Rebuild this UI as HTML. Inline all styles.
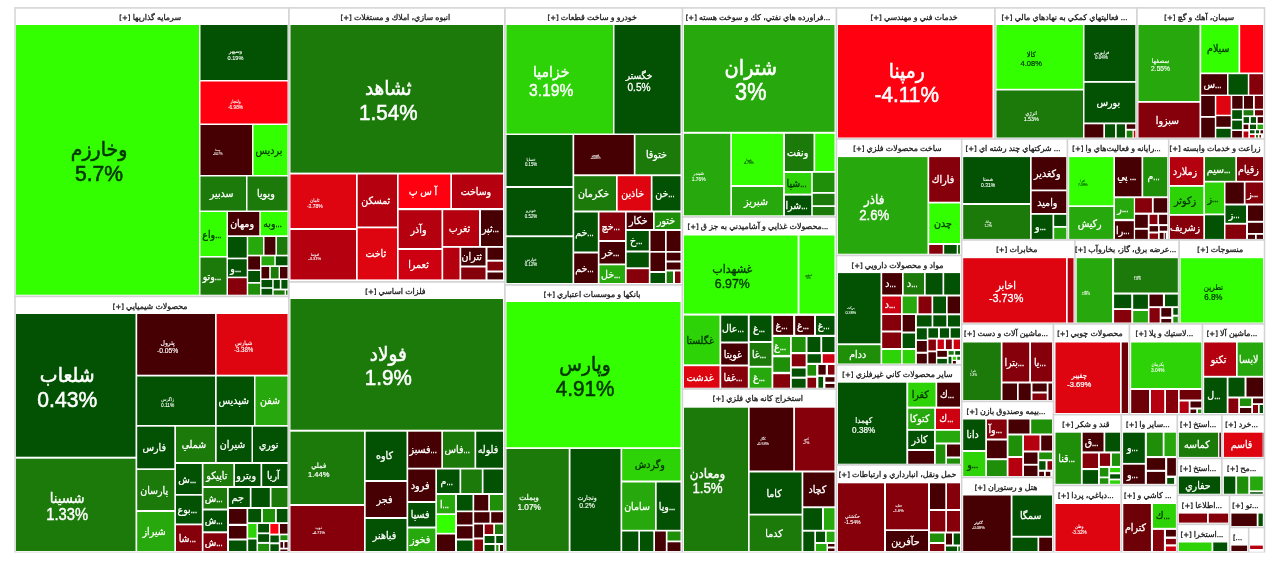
<!DOCTYPE html>
<html lang="fa"><head><meta charset="utf-8"><title>نقشه بازار</title>
<style>
html,body{margin:0;padding:0;background:#fff;}
body{width:1280px;height:564px;overflow:hidden;}
svg{display:block;font-family:"Liberation Sans","DejaVu Sans",sans-serif;}
.b{fill:#fff;stroke:#d3d3d3;stroke-width:1.5}
.t{fill:#1a1a1a;stroke:#1a1a1a;stroke-width:.3px;font-size:7.9px;text-anchor:middle;direction:rtl}
.t tspan{font-size:6.9px;font-family:"DejaVu Sans","Liberation Sans",sans-serif}
.w{fill:#fff;stroke:#fff;text-anchor:middle}
.d{fill:#003400;stroke:#003400;text-anchor:middle}
.G6{fill:#33ff00}
.G5{fill:#2dd207}
.G45{fill:#2dd207}
.G4{fill:#27a80c}
.G3{fill:#1f8f0a}
.G2{fill:#1b7a0a}
.G1{fill:#035203}
.M{fill:#460003}
.R1{fill:#6e0008}
.R2{fill:#86000c}
.R3{fill:#b4000f}
.R4{fill:#cd0012}
.R5{fill:#de0410}
.R6{fill:#ff0010}
</style></head><body>
<svg width="1280" height="564" viewBox="0 0 1280 564">
<rect x="0" y="0" width="1280" height="564" fill="#fff"/>
<g>
<rect class="b" x="15" y="7.9" width="274" height="288.6"/>
<rect class="b" x="15" y="296.5" width="274" height="256"/>
<rect class="b" x="289" y="7.9" width="216" height="274.1"/>
<rect class="b" x="289" y="282" width="216" height="270.5"/>
<rect class="b" x="505" y="7.9" width="177.5" height="277.1"/>
<rect class="b" x="505" y="285" width="177.5" height="267.5"/>
<rect class="b" x="682.5" y="7.9" width="154" height="209.1"/>
<rect class="b" x="682.5" y="217" width="154" height="172"/>
<rect class="b" x="682.5" y="389" width="154" height="163.5"/>
<rect class="b" x="836.5" y="7.9" width="158.5" height="131.1"/>
<rect class="b" x="836.5" y="139" width="125.2" height="116.5"/>
<rect class="b" x="836.5" y="255.5" width="125.2" height="109.5"/>
<rect class="b" x="836.5" y="365" width="125.2" height="100"/>
<rect class="b" x="836.5" y="465" width="125.2" height="87.5"/>
<rect class="b" x="995" y="7.9" width="142" height="131.1"/>
<rect class="b" x="1137" y="7.9" width="127.5" height="131.1"/>
<rect class="b" x="961.7" y="139" width="105.8" height="101"/>
<rect class="b" x="1067.5" y="139" width="101.2" height="101"/>
<rect class="b" x="1168.7" y="139" width="95.8" height="101"/>
<rect class="b" x="961.7" y="240" width="113.3" height="84"/>
<rect class="b" x="1075" y="240" width="104.2" height="84"/>
<rect class="b" x="1179.2" y="240" width="85.3" height="84"/>
<rect class="b" x="961.7" y="324" width="91.8" height="77.5"/>
<rect class="b" x="1053.5" y="324" width="76" height="90.7"/>
<rect class="b" x="1129.5" y="324" width="73" height="90.7"/>
<rect class="b" x="1202.5" y="324" width="62" height="90.7"/>
<rect class="b" x="961.7" y="401.5" width="91.8" height="76"/>
<rect class="b" x="961.7" y="477.5" width="91.8" height="75"/>
<rect class="b" x="1053.5" y="414.7" width="67.9" height="70.8"/>
<rect class="b" x="1121.4" y="414.7" width="56" height="70.8"/>
<rect class="b" x="1177.4" y="414.7" width="44.6" height="43.8"/>
<rect class="b" x="1222" y="414.7" width="42.5" height="43.8"/>
<rect class="b" x="1177.4" y="458.5" width="44.6" height="36.9"/>
<rect class="b" x="1222" y="458.5" width="42.5" height="36.9"/>
<rect class="b" x="1053.5" y="485.5" width="67.9" height="67"/>
<rect class="b" x="1121.4" y="485.5" width="56" height="67"/>
<rect class="b" x="1177.4" y="495.4" width="52.2" height="29"/>
<rect class="b" x="1229.6" y="495.4" width="34.9" height="32.1"/>
<rect class="b" x="1177.4" y="524.4" width="52.2" height="28.1"/>
<rect class="b" x="1229.6" y="527.5" width="19.1" height="25"/>
<rect class="b" x="1248.7" y="527.5" width="15.8" height="25"/>
<rect x="0" y="552.5" width="1280" height="12" fill="#fff"/>
</g>
<g>
<text class="t" x="150.15" y="20.3">سرمايه گذاريها <tspan>[+]</tspan></text>
<rect class="G6" x="16" y="25" width="183" height="269.7"/>
<text class="d" transform="translate(99 156.18) scale(0.93 1)" font-size="20.37" stroke-width="0.55" direction="rtl">وخارزم</text>
<text class="d" transform="translate(99 181.17) scale(0.94 1)" font-size="22.47" stroke-width="0.55">5.7%</text>
<rect class="G1" x="200.5" y="25" width="87" height="55"/>
<text class="w" transform="translate(235.5 53) scale(0.93 1)" font-size="5.38" stroke-width="0.11" direction="rtl">وسپهر</text>
<text class="w" transform="translate(235.5 59.61) scale(0.94 1)" font-size="5.94" stroke-width="0.11">0.19%</text>
<rect class="R6" x="200.5" y="81.5" width="87" height="42"/>
<text class="w" transform="translate(235.5 103.23) scale(0.93 1)" font-size="4.56" stroke-width="0.09" direction="rtl">ولتجار</text>
<text class="w" transform="translate(235.5 108.82) scale(0.94 1)" font-size="5.03" stroke-width="0.09">-6.98%</text>
<rect class="M" x="200.5" y="125" width="51.5" height="50"/>
<text class="w" transform="translate(217.75 151.18) scale(0.93 1)" font-size="2.96" stroke-width="0.06" direction="rtl">وصنا</text>
<text class="w" transform="translate(217.75 154.81) scale(0.94 1)" font-size="3.26" stroke-width="0.06">-0.07%</text>
<rect class="G6" x="253.5" y="125" width="34" height="50"/>
<text class="d" transform="translate(268.9 153.57) scale(0.93 1)" font-size="10.19" stroke-width="0.3" direction="rtl">برديس</text>
<rect class="G2" x="200.5" y="176.5" width="45.5" height="34"/>
<text class="w" transform="translate(221.65 197.07) scale(0.93 1)" font-size="10.19" stroke-width="0.3" direction="rtl">سدبير</text>
<rect class="G2" x="247.5" y="176.5" width="40" height="34"/>
<text class="w" transform="translate(265.9 197.07) scale(0.93 1)" font-size="10.19" stroke-width="0.3" direction="rtl">ويويا</text>
<rect class="G6" x="200.5" y="212" width="26" height="44"/>
<text class="d" transform="translate(211.9 237.57) scale(0.93 1)" font-size="10.19" stroke-width="0.3" direction="rtl"><tspan font-size="8.15">...</tspan>واع</text>
<rect class="M" x="228" y="212" width="31.3" height="23.3"/>
<text class="w" transform="translate(242.05 227.22) scale(0.93 1)" font-size="10.19" stroke-width="0.3" direction="rtl">ومهان</text>
<rect class="G6" x="260.7" y="212" width="26.8" height="23.3"/>
<text class="d" transform="translate(272.5 227.22) scale(0.93 1)" font-size="10.19" stroke-width="0.3" direction="rtl"><tspan font-size="8.15">...</tspan>وبه</text>
<rect class="G2" x="200.5" y="257.6" width="26" height="37.1"/>
<text class="w" transform="translate(211.9 279.72) scale(0.93 1)" font-size="10.19" stroke-width="0.3" direction="rtl"><tspan font-size="8.15">...</tspan>وتو</text>
<rect class="G1" x="228" y="237" width="18.7" height="20.6"/>
<rect class="G1" x="228" y="259.3" width="18.7" height="17.3"/>
<text class="w" transform="translate(235.75 271.52) scale(0.93 1)" font-size="10.19" stroke-width="0.3" direction="rtl"><tspan font-size="8.15">...</tspan>و</text>
<rect class="R2" x="228" y="278.2" width="18.7" height="16.5"/>
<rect class="G4" x="248.2" y="237" width="14.8" height="17.7"/>
<rect class="M" x="264.5" y="237" width="10.9" height="17.7"/>
<rect class="G2" x="276.9" y="237" width="10.6" height="17.7"/>
<rect class="M" x="248.2" y="256.4" width="11.8" height="13.1"/>
<rect class="G1" x="248.2" y="271" width="11.8" height="11"/>
<rect class="G3" x="248.2" y="283.7" width="11.8" height="11"/>
<rect class="G4" x="261.5" y="256.4" width="12.8" height="8.9"/>
<rect class="G1" x="275.8" y="256.4" width="11.7" height="8.9"/>
<rect class="M" x="261.5" y="267" width="7.7" height="11.4"/>
<rect class="G2" x="270.8" y="267" width="7.8" height="11.4"/>
<rect class="M" x="280" y="267" width="7.5" height="11.4"/>
<rect class="G1" x="261.5" y="280" width="10.7" height="7.2"/>
<rect class="G1" x="273.7" y="280" width="6.1" height="8.6"/>
<rect class="G1" x="281.4" y="280" width="6.1" height="8.6"/>
<rect class="G1" x="261.5" y="288.8" width="10.7" height="5.9"/>
<rect class="G2" x="273.7" y="290.4" width="10.9" height="4.3"/>
<rect class="G2" x="286" y="290.4" width="1.5" height="4.3"/>
</g>
<g>
<text class="t" x="150.15" y="308.8">محصولات شيميايي <tspan>[+]</tspan></text>
<rect class="G1" x="16" y="314" width="119.5" height="142.7"/>
<text class="w" transform="translate(67.25 381.68) scale(0.93 1)" font-size="20.37" stroke-width="0.55" direction="rtl">شلعاب</text>
<text class="w" transform="translate(67.25 406.67) scale(0.94 1)" font-size="22.47" stroke-width="0.55">0.43%</text>
<rect class="G2" x="16" y="458.7" width="119.5" height="92.3"/>
<text class="w" transform="translate(67.25 502.88) scale(0.93 1)" font-size="14.26" stroke-width="0.4" direction="rtl">شسينا</text>
<text class="w" transform="translate(67.25 520.37) scale(0.94 1)" font-size="15.73" stroke-width="0.4">1.33%</text>
<rect class="M" x="137.2" y="314" width="77.8" height="60.7"/>
<text class="w" transform="translate(167.6 344.54) scale(0.93 1)" font-size="6.5" stroke-width="0.13" direction="rtl">پترول</text>
<text class="w" transform="translate(167.6 352.51) scale(0.94 1)" font-size="7.17" stroke-width="0.13">-0.05%</text>
<rect class="R5" x="216.7" y="314" width="70.8" height="60.7"/>
<text class="w" transform="translate(243.6 344.7) scale(0.93 1)" font-size="5.92" stroke-width="0.12" direction="rtl">شپارس</text>
<text class="w" transform="translate(243.6 351.96) scale(0.94 1)" font-size="6.53" stroke-width="0.12">-3.38%</text>
<rect class="G1" x="137.2" y="376.5" width="77.8" height="48.5"/>
<text class="w" transform="translate(167.6 401.47) scale(0.93 1)" font-size="4.61" stroke-width="0.1" direction="rtl">زاگرس</text>
<text class="w" transform="translate(167.6 407.12) scale(0.94 1)" font-size="5.08" stroke-width="0.1">0.11%</text>
<rect class="G1" x="216.7" y="376.5" width="37.3" height="48.5"/>
<text class="w" transform="translate(233.75 404.32) scale(0.93 1)" font-size="10.19" stroke-width="0.3" direction="rtl">شپديس</text>
<rect class="G4" x="255.5" y="376.5" width="32" height="48.5"/>
<text class="w" transform="translate(269.9 404.32) scale(0.93 1)" font-size="10.19" stroke-width="0.3" direction="rtl">شفن</text>
<rect class="G1" x="137.2" y="426.7" width="37.1" height="41.6"/>
<text class="w" transform="translate(154.15 451.07) scale(0.93 1)" font-size="10.19" stroke-width="0.3" direction="rtl">فارس</text>
<rect class="G2" x="137.2" y="470" width="37.1" height="40"/>
<text class="w" transform="translate(154.15 493.57) scale(0.93 1)" font-size="10.19" stroke-width="0.3" direction="rtl">پارسان</text>
<rect class="G4" x="137.2" y="512" width="37.1" height="39"/>
<text class="w" transform="translate(154.15 535.07) scale(0.93 1)" font-size="10.19" stroke-width="0.3" direction="rtl">شيراز</text>
<rect class="G2" x="176" y="426.7" width="39" height="35.3"/>
<text class="w" transform="translate(193.9 447.92) scale(0.93 1)" font-size="10.19" stroke-width="0.3" direction="rtl">شملي</text>
<rect class="G1" x="216.7" y="426.7" width="34.8" height="35.3"/>
<text class="w" transform="translate(232.5 447.92) scale(0.93 1)" font-size="10.19" stroke-width="0.3" direction="rtl">شيران</text>
<rect class="G1" x="253" y="426.7" width="34.5" height="35.3"/>
<text class="w" transform="translate(268.65 447.92) scale(0.93 1)" font-size="10.19" stroke-width="0.3" direction="rtl">نوري</text>
<rect class="G1" x="176" y="464" width="25.8" height="30"/>
<text class="w" transform="translate(187.3 482.57) scale(0.93 1)" font-size="10.19" stroke-width="0.3" direction="rtl"><tspan font-size="8.15">...</tspan>ش</text>
<rect class="G1" x="176" y="495.7" width="25.8" height="27.8"/>
<text class="w" transform="translate(187.3 513.17) scale(0.93 1)" font-size="10.19" stroke-width="0.3" direction="rtl"><tspan font-size="8.15">...</tspan>بوع</text>
<rect class="R2" x="176" y="525.3" width="25.8" height="25.7"/>
<text class="w" transform="translate(187.3 541.72) scale(0.93 1)" font-size="10.19" stroke-width="0.3" direction="rtl"><tspan font-size="8.15">...</tspan>شا</text>
<rect class="G2" x="203.5" y="464" width="29.8" height="22"/>
<text class="w" transform="translate(216.8 478.57) scale(0.93 1)" font-size="10.19" stroke-width="0.3" direction="rtl">تاپيكو</text>
<rect class="G1" x="235" y="464" width="25.5" height="22"/>
<text class="w" transform="translate(246.15 478.57) scale(0.93 1)" font-size="10.19" stroke-width="0.3" direction="rtl">وبترو</text>
<rect class="G1" x="262.2" y="464" width="25.3" height="22"/>
<text class="w" transform="translate(273.25 478.57) scale(0.93 1)" font-size="10.19" stroke-width="0.3" direction="rtl">آريا</text>
<rect class="G2" x="203.5" y="488" width="23.5" height="20.5"/>
<text class="w" transform="translate(213.65 501.82) scale(0.93 1)" font-size="10.19" stroke-width="0.3" direction="rtl"><tspan font-size="8.15">...</tspan>ش</text>
<rect class="G1" x="203.5" y="510.5" width="23.5" height="20.8"/>
<text class="w" transform="translate(213.65 524.47) scale(0.93 1)" font-size="10.19" stroke-width="0.3" direction="rtl"><tspan font-size="8.15">...</tspan>ش</text>
<rect class="R2" x="203.5" y="533.3" width="23.5" height="17.7"/>
<text class="w" transform="translate(213.65 545.72) scale(0.93 1)" font-size="10.19" stroke-width="0.3" direction="rtl"><tspan font-size="8.15">...</tspan>ش</text>
<rect class="G1" x="228.8" y="488" width="21" height="19"/>
<text class="w" transform="translate(237.7 501.07) scale(0.93 1)" font-size="10.19" stroke-width="0.3" direction="rtl">جم</text>
<rect class="G1" x="251.5" y="488" width="18.3" height="19"/>
<rect class="G2" x="271.5" y="488" width="16" height="19"/>
<rect class="M" x="229" y="509" width="17.5" height="14.8"/>
<rect class="M" x="229" y="526" width="17.5" height="12.5"/>
<rect class="G1" x="229" y="540.5" width="17.5" height="10.5"/>
<rect class="G1" x="248.2" y="509" width="12.9" height="13.2"/>
<rect class="G3" x="262.9" y="509" width="12.1" height="13.2"/>
<rect class="G1" x="276.8" y="509" width="10.7" height="13.2"/>
<rect class="G5" x="248.2" y="524" width="8.3" height="13.7"/>
<rect class="G1" x="248.2" y="539.5" width="8.3" height="11.5"/>
<rect class="G1" x="258.1" y="524" width="10.9" height="8.4"/>
<rect class="R6" x="270.4" y="524" width="8" height="9.6"/>
<rect class="M" x="280" y="524" width="7.5" height="9.6"/>
<rect class="G1" x="258.1" y="534.2" width="10.9" height="7.7"/>
<rect class="G3" x="258.1" y="543.9" width="10.9" height="7.1"/>
<rect class="G1" x="270.4" y="535.5" width="8.4" height="6.8"/>
<rect class="G1" x="270.4" y="544.3" width="8.4" height="6.7"/>
<rect class="G3" x="280.4" y="535.3" width="7.1" height="4.8"/>
<rect class="M" x="280.4" y="542.1" width="2.6" height="5.6"/>
<rect class="M" x="284.5" y="542.1" width="3" height="5.6"/>
<rect class="M" x="280.4" y="549.5" width="7.1" height="1.5"/>
</g>
<g>
<text class="t" x="395.4" y="20.3">انبوه سازي، املاك و مستغلات <tspan>[+]</tspan></text>
<rect class="G2" x="290.5" y="25" width="212.5" height="147.6"/>
<text class="w" transform="translate(388.25 95.27) scale(0.93 1)" font-size="19.88" stroke-width="0.54" direction="rtl">ثشاهد</text>
<text class="w" transform="translate(388.25 119.66) scale(0.94 1)" font-size="21.94" stroke-width="0.54">1.54%</text>
<rect class="R5" x="290.5" y="174.5" width="65.5" height="53.5"/>
<text class="w" transform="translate(314.75 201.91) scale(0.93 1)" font-size="4.8" stroke-width="0.1" direction="rtl">ثامان</text>
<text class="w" transform="translate(314.75 207.8) scale(0.94 1)" font-size="5.3" stroke-width="0.1">-3.78%</text>
<rect class="R3" x="290.5" y="230" width="65.5" height="49.4"/>
<text class="w" transform="translate(314.75 255.61) scale(0.93 1)" font-size="3.93" stroke-width="0.08" direction="rtl">ثنوسا</text>
<text class="w" transform="translate(314.75 260.43) scale(0.94 1)" font-size="4.33" stroke-width="0.08">-3.31%</text>
<rect class="R3" x="357.7" y="174.5" width="39.3" height="52"/>
<text class="w" transform="translate(375.75 204.07) scale(0.93 1)" font-size="10.19" stroke-width="0.3" direction="rtl">ثمسكن</text>
<rect class="R5" x="357.7" y="228.3" width="39.3" height="51.1"/>
<text class="w" transform="translate(375.75 257.42) scale(0.93 1)" font-size="10.19" stroke-width="0.3" direction="rtl">ثاخت</text>
<rect class="R6" x="398.7" y="174.5" width="51.6" height="33.5"/>
<text class="w" transform="translate(422.9 194.82) scale(0.93 1)" font-size="10.19" stroke-width="0.3" direction="rtl">آ س پ</text>
<rect class="R3" x="452" y="174.5" width="51" height="33.5"/>
<text class="w" transform="translate(475.9 194.82) scale(0.93 1)" font-size="10.19" stroke-width="0.3" direction="rtl">وساخت</text>
<rect class="R3" x="398.7" y="210.2" width="42.8" height="37.8"/>
<text class="w" transform="translate(418.5 232.67) scale(0.93 1)" font-size="10.19" stroke-width="0.3" direction="rtl">وآذر</text>
<rect class="R4" x="398.7" y="250" width="42.8" height="29.4"/>
<text class="w" transform="translate(418.5 268.27) scale(0.93 1)" font-size="10.19" stroke-width="0.3" direction="rtl">ثعمرا</text>
<rect class="R3" x="443.2" y="210.2" width="35.8" height="35.8"/>
<text class="w" transform="translate(459.5 231.67) scale(0.93 1)" font-size="10.19" stroke-width="0.3" direction="rtl">ثغرب</text>
<rect class="M" x="481" y="210.2" width="22" height="35.8"/>
<text class="w" transform="translate(490.4 231.67) scale(0.93 1)" font-size="10.19" stroke-width="0.3" direction="rtl"><tspan font-size="8.15">...</tspan>ثپر</text>
<rect class="R3" x="443.2" y="247.8" width="16.3" height="31.6"/>
<rect class="M" x="461.2" y="247.8" width="24.3" height="17.7"/>
<text class="w" transform="translate(471.75 260.22) scale(0.93 1)" font-size="10.19" stroke-width="0.3" direction="rtl">ثتران</text>
<rect class="R2" x="461.2" y="267.5" width="24.3" height="11.9"/>
<rect class="M" x="487.5" y="247.8" width="15.5" height="11.9"/>
<rect class="R2" x="487.5" y="261.7" width="15.5" height="8.8"/>
<rect class="M" x="487.5" y="272.5" width="15.5" height="6.9"/>
</g>
<g>
<text class="t" x="395.4" y="294.3">فلزات اساسي <tspan>[+]</tspan></text>
<rect class="G2" x="290.5" y="299" width="212.5" height="130.7"/>
<text class="w" transform="translate(388.25 360.82) scale(0.93 1)" font-size="19.88" stroke-width="0.54" direction="rtl">فولاد</text>
<text class="w" transform="translate(388.25 385.21) scale(0.94 1)" font-size="21.94" stroke-width="0.54">1.9%</text>
<rect class="G2" x="290.5" y="431.7" width="73.5" height="72.3"/>
<text class="w" transform="translate(318.75 467.82) scale(0.93 1)" font-size="7.27" stroke-width="0.23" direction="rtl">فملي</text>
<text class="w" transform="translate(318.75 476.75) scale(0.94 1)" font-size="8.03" stroke-width="0.23">1.44%</text>
<rect class="R2" x="290.5" y="506" width="73.5" height="45"/>
<text class="w" transform="translate(318.75 529.43) scale(0.93 1)" font-size="3.83" stroke-width="0.08" direction="rtl">ذوب</text>
<text class="w" transform="translate(318.75 534.13) scale(0.94 1)" font-size="4.23" stroke-width="0.08">-4.71%</text>
<rect class="G1" x="365.7" y="431.7" width="40.8" height="48.3"/>
<text class="w" transform="translate(384.5 459.42) scale(0.93 1)" font-size="10.19" stroke-width="0.3" direction="rtl">كاوه</text>
<rect class="M" x="365.7" y="482" width="40.8" height="35"/>
<text class="w" transform="translate(384.5 503.07) scale(0.93 1)" font-size="10.19" stroke-width="0.3" direction="rtl">فجر</text>
<rect class="G1" x="365.7" y="519" width="40.8" height="32"/>
<text class="w" transform="translate(384.5 538.57) scale(0.93 1)" font-size="10.19" stroke-width="0.3" direction="rtl">فباهنر</text>
<rect class="M" x="408.2" y="431.7" width="33.1" height="36"/>
<text class="w" transform="translate(423.15 453.27) scale(0.93 1)" font-size="10.19" stroke-width="0.3" direction="rtl"><tspan font-size="8.15">...</tspan>فسبز</text>
<rect class="G2" x="443" y="431.7" width="31.5" height="36"/>
<text class="w" transform="translate(457.15 453.27) scale(0.93 1)" font-size="10.19" stroke-width="0.3" direction="rtl"><tspan font-size="8.15">...</tspan>فاس</text>
<rect class="G1" x="476.2" y="431.7" width="26.8" height="36"/>
<text class="w" transform="translate(488 453.27) scale(0.93 1)" font-size="10.19" stroke-width="0.3" direction="rtl">فلوله</text>
<rect class="M" x="408.2" y="469.5" width="27.1" height="31.5"/>
<text class="w" transform="translate(420.15 488.82) scale(0.93 1)" font-size="10.19" stroke-width="0.3" direction="rtl">فرود</text>
<rect class="G1" x="408.2" y="503" width="27.1" height="23.5"/>
<text class="w" transform="translate(420.15 518.32) scale(0.93 1)" font-size="10.19" stroke-width="0.3" direction="rtl">فسپا</text>
<rect class="G4" x="408.2" y="528.5" width="27.1" height="22.5"/>
<text class="w" transform="translate(420.15 543.32) scale(0.93 1)" font-size="10.19" stroke-width="0.3" direction="rtl">فخوز</text>
<rect class="G1" x="437" y="469.5" width="22.5" height="23.5"/>
<text class="w" transform="translate(446.65 484.82) scale(0.93 1)" font-size="10.19" stroke-width="0.3" direction="rtl"><tspan font-size="8.15">...</tspan>م</text>
<rect class="G2" x="461.2" y="469.5" width="20.6" height="23.5"/>
<rect class="G1" x="483.5" y="469.5" width="19.5" height="23.5"/>
<rect class="G4" x="437" y="495" width="18" height="18.3"/>
<text class="w" transform="translate(444.4 507.72) scale(0.93 1)" font-size="10.19" stroke-width="0.3" direction="rtl"><tspan font-size="8.15">...</tspan>ا</text>
<rect class="G6" x="437" y="515" width="18" height="17.8"/>
<rect class="M" x="437" y="534.5" width="18" height="16.5"/>
<rect class="G1" x="457" y="495" width="15.5" height="15.5"/>
<rect class="M" x="474.2" y="495" width="14" height="15.5"/>
<rect class="G3" x="490" y="495" width="13" height="15.5"/>
<rect class="M" x="457" y="512.2" width="15.5" height="12.3"/>
<rect class="M" x="474.2" y="512.2" width="15.3" height="10.5"/>
<rect class="M" x="491.2" y="512.2" width="11.8" height="10.5"/>
<rect class="M" x="457" y="526.2" width="15.5" height="12.3"/>
<rect class="G1" x="457" y="540.5" width="15.5" height="10.5"/>
<rect class="M" x="474.2" y="524.5" width="8.8" height="13"/>
<rect class="R2" x="474.2" y="539.5" width="8.8" height="11.5"/>
<rect class="R2" x="484.7" y="524.5" width="8.5" height="9.5"/>
<rect class="G2" x="495" y="524.5" width="8" height="9.5"/>
<rect class="G1" x="484.7" y="536" width="9.8" height="7"/>
<rect class="G1" x="496.2" y="536" width="6.8" height="7"/>
<rect class="G1" x="484.7" y="545" width="9.8" height="6"/>
<rect class="G3" x="496.2" y="545" width="2.2" height="6"/>
<rect class="M" x="500" y="545" width="3" height="6"/>
</g>
<g>
<text class="t" x="592.15" y="20.3">خودرو و ساخت قطعات <tspan>[+]</tspan></text>
<rect class="G45" x="506.5" y="25" width="106.5" height="108.5"/>
<text class="w" transform="translate(551.25 77.04) scale(0.93 1)" font-size="15.13" stroke-width="0.42" direction="rtl">خزاميا</text>
<text class="w" transform="translate(551.25 95.6) scale(0.94 1)" font-size="16.69" stroke-width="0.42">3.19%</text>
<rect class="G1" x="614.5" y="25" width="66" height="108.5"/>
<text class="w" transform="translate(639 78.52) scale(0.93 1)" font-size="9.8" stroke-width="0.29" direction="rtl">خگستر</text>
<text class="w" transform="translate(639 90.54) scale(0.94 1)" font-size="10.81" stroke-width="0.29">0.5%</text>
<rect class="G1" x="506.5" y="135" width="66" height="51"/>
<text class="w" transform="translate(531 161.35) scale(0.93 1)" font-size="4.12" stroke-width="0.09" direction="rtl">خساپا</text>
<text class="w" transform="translate(531 166.41) scale(0.94 1)" font-size="4.55" stroke-width="0.09">0.15%</text>
<rect class="G1" x="506.5" y="188" width="66" height="47.3"/>
<text class="w" transform="translate(531 212.48) scale(0.93 1)" font-size="4.22" stroke-width="0.09" direction="rtl">خودرو</text>
<text class="w" transform="translate(531 217.65) scale(0.94 1)" font-size="4.65" stroke-width="0.09">0.52%</text>
<rect class="G1" x="506.5" y="237.2" width="66" height="45.8"/>
<text class="w" transform="translate(531 260.93) scale(0.93 1)" font-size="4.22" stroke-width="0.09" direction="rtl">خپارس</text>
<text class="w" transform="translate(531 266.1) scale(0.94 1)" font-size="4.65" stroke-width="0.09">0.12%</text>
<rect class="M" x="574.2" y="135" width="59.6" height="39.3"/>
<text class="w" transform="translate(595.5 155.83) scale(0.93 1)" font-size="2.96" stroke-width="0.06" direction="rtl">خبهمن</text>
<text class="w" transform="translate(595.5 159.46) scale(0.94 1)" font-size="3.26" stroke-width="0.06">-0.08%</text>
<rect class="G2" x="635.5" y="135" width="45" height="39.3"/>
<text class="w" transform="translate(656.4 158.22) scale(0.93 1)" font-size="10.19" stroke-width="0.3" direction="rtl">ختوقا</text>
<rect class="G2" x="574.2" y="176.2" width="41.8" height="34.3"/>
<text class="w" transform="translate(593.5 196.92) scale(0.93 1)" font-size="10.19" stroke-width="0.3" direction="rtl">خكرمان</text>
<rect class="R5" x="617.7" y="176.2" width="33.1" height="34.3"/>
<text class="w" transform="translate(632.65 196.92) scale(0.93 1)" font-size="10.19" stroke-width="0.3" direction="rtl">خاذين</text>
<rect class="G1" x="652.5" y="176.2" width="28" height="34.3"/>
<text class="w" transform="translate(664.9 196.92) scale(0.93 1)" font-size="10.19" stroke-width="0.3" direction="rtl"><tspan font-size="8.15">...</tspan>خن</text>
<rect class="G1" x="574.2" y="212.5" width="23.6" height="39"/>
<text class="w" transform="translate(584.4 235.57) scale(0.93 1)" font-size="10.19" stroke-width="0.3" direction="rtl"><tspan font-size="8.15">...</tspan>خم</text>
<rect class="M" x="574.2" y="253.5" width="23.6" height="29.5"/>
<text class="w" transform="translate(584.4 271.82) scale(0.93 1)" font-size="10.19" stroke-width="0.3" direction="rtl"><tspan font-size="8.15">...</tspan>خم</text>
<rect class="R2" x="599.5" y="212.5" width="25.5" height="27.5"/>
<text class="w" transform="translate(610.65 229.82) scale(0.93 1)" font-size="10.19" stroke-width="0.3" direction="rtl"><tspan font-size="8.15">...</tspan>خچ</text>
<rect class="M" x="599.5" y="242" width="25.5" height="21.5"/>
<text class="w" transform="translate(610.65 256.32) scale(0.93 1)" font-size="10.19" stroke-width="0.3" direction="rtl"><tspan font-size="8.15">...</tspan>خر</text>
<rect class="G4" x="599.5" y="265.3" width="25.5" height="17.7"/>
<text class="w" transform="translate(610.65 277.72) scale(0.93 1)" font-size="10.19" stroke-width="0.3" direction="rtl"><tspan font-size="8.15">...</tspan>خل</text>
<rect class="M" x="626.7" y="212.5" width="26.3" height="16.5"/>
<text class="w" transform="translate(638.25 224.32) scale(0.93 1)" font-size="10.19" stroke-width="0.3" direction="rtl">خكار</text>
<rect class="G3" x="654.7" y="212.5" width="25.8" height="16.5"/>
<text class="w" transform="translate(666 224.32) scale(0.93 1)" font-size="10.19" stroke-width="0.3" direction="rtl">ختور</text>
<rect class="G1" x="626.7" y="231" width="22.1" height="19.5"/>
<text class="w" transform="translate(636.15 244.32) scale(0.93 1)" font-size="10.19" stroke-width="0.3" direction="rtl"><tspan font-size="8.15">...</tspan>خ</text>
<rect class="G1" x="626.7" y="252.5" width="22.1" height="14.8"/>
<rect class="R2" x="626.7" y="269.2" width="22.1" height="13.8"/>
<rect class="M" x="650.5" y="231" width="14.5" height="20"/>
<rect class="M" x="666.7" y="231" width="13.8" height="20"/>
<rect class="M" x="650.5" y="252.7" width="14.5" height="18.3"/>
<rect class="M" x="666.7" y="252.7" width="13.8" height="7.8"/>
<rect class="M" x="666.7" y="262.5" width="13.8" height="7"/>
<rect class="G1" x="650.5" y="273" width="14.5" height="10"/>
<rect class="G2" x="666.7" y="271.5" width="6.3" height="11.5"/>
<rect class="R2" x="675" y="271.5" width="5.5" height="11.5"/>
</g>
<g>
<text class="t" x="592.15" y="297.3">بانكها و موسسات اعتباري <tspan>[+]</tspan></text>
<rect class="G6" x="506.5" y="302" width="174" height="145.2"/>
<text class="d" transform="translate(585 371.04) scale(0.93 1)" font-size="19.98" stroke-width="0.54" direction="rtl">وپارس</text>
<text class="d" transform="translate(585 395.55) scale(0.94 1)" font-size="22.04" stroke-width="0.54">4.91%</text>
<rect class="G2" x="506.5" y="449" width="62.2" height="102"/>
<text class="w" transform="translate(529.1 499.79) scale(0.93 1)" font-size="7.95" stroke-width="0.25" direction="rtl">وبملت</text>
<text class="w" transform="translate(529.1 509.54) scale(0.94 1)" font-size="8.77" stroke-width="0.25">1.07%</text>
<rect class="G1" x="570.5" y="449" width="50" height="102"/>
<text class="w" transform="translate(587 500.16) scale(0.93 1)" font-size="6.6" stroke-width="0.14" direction="rtl">وتجارت</text>
<text class="w" transform="translate(587 508.26) scale(0.94 1)" font-size="7.28" stroke-width="0.14">0.2%</text>
<rect class="G5" x="622.2" y="449" width="58.3" height="31.5"/>
<text class="d" transform="translate(649.75 468.32) scale(0.93 1)" font-size="10.19" stroke-width="0.3" direction="rtl">وگردش</text>
<rect class="G4" x="622.2" y="482.5" width="32.8" height="47.3"/>
<text class="w" transform="translate(637 509.72) scale(0.93 1)" font-size="10.19" stroke-width="0.3" direction="rtl">سامان</text>
<rect class="G1" x="656.7" y="482.5" width="23.8" height="47.3"/>
<text class="w" transform="translate(667 509.72) scale(0.93 1)" font-size="10.19" stroke-width="0.3" direction="rtl"><tspan font-size="8.15">...</tspan>وپا</text>
<rect class="G1" x="622.2" y="531.5" width="16.1" height="19.5"/>
<rect class="G1" x="640" y="531.5" width="13.3" height="19.5"/>
<rect class="M" x="655" y="531.5" width="10.8" height="19.5"/>
<rect class="G3" x="667.5" y="531.5" width="13" height="9"/>
<rect class="M" x="667.5" y="542.3" width="13" height="8.7"/>
</g>
<g>
<text class="t" x="757.9" y="20.3">...فراورده هاي نفتي، كك و سوخت هسته <tspan>[+]</tspan></text>
<rect class="G4" x="684" y="25" width="150.5" height="106.8"/>
<text class="w" transform="translate(750.75 74.6) scale(0.93 1)" font-size="20.86" stroke-width="0.57" direction="rtl">شتران</text>
<text class="w" transform="translate(750.75 100.18) scale(0.94 1)" font-size="23.01" stroke-width="0.57">3%</text>
<rect class="G4" x="684" y="133.8" width="46.3" height="81.5"/>
<text class="w" transform="translate(698.65 175.24) scale(0.93 1)" font-size="4.7" stroke-width="0.1" direction="rtl">شبندر</text>
<text class="w" transform="translate(698.65 181.01) scale(0.94 1)" font-size="5.19" stroke-width="0.1">1.76%</text>
<rect class="G6" x="732" y="133.8" width="51" height="51.2"/>
<text class="d" transform="translate(749 160.5) scale(0.93 1)" font-size="3.25" stroke-width="0.07" direction="rtl">شپنا</text>
<text class="d" transform="translate(749 164.48) scale(0.94 1)" font-size="3.58" stroke-width="0.07">4.78%</text>
<rect class="G4" x="732" y="187" width="51" height="28.3"/>
<text class="w" transform="translate(755.9 204.72) scale(0.93 1)" font-size="10.19" stroke-width="0.3" direction="rtl">شبريز</text>
<rect class="G2" x="785" y="133.8" width="28.5" height="37.2"/>
<text class="w" transform="translate(797.65 155.97) scale(0.93 1)" font-size="10.19" stroke-width="0.3" direction="rtl">ونفت</text>
<rect class="G6" x="815.2" y="133.8" width="19.3" height="37.2"/>
<rect class="G5" x="785" y="173" width="26.2" height="20.6"/>
<text class="d" transform="translate(796.5 186.87) scale(0.93 1)" font-size="10.19" stroke-width="0.3" direction="rtl"><tspan font-size="8.15">...</tspan>شپا</text>
<rect class="G1" x="785" y="195.6" width="26.2" height="19.7"/>
<text class="w" transform="translate(796.5 209.02) scale(0.93 1)" font-size="10.19" stroke-width="0.3" direction="rtl"><tspan font-size="8.15">...</tspan>شرا</text>
<rect class="G3" x="812.8" y="172.8" width="21.7" height="19.2"/>
<rect class="G2" x="812.8" y="193.8" width="21.7" height="11.4"/>
<rect class="G2" x="812.8" y="207" width="21.7" height="8.3"/>
</g>
<g>
<text class="t" x="757.9" y="229.3">...محصولات غذايي و آشاميدني به جز ق <tspan>[+]</tspan></text>
<rect class="G6" x="684" y="235.5" width="113.6" height="78"/>
<text class="d" transform="translate(732.3 273.18) scale(0.93 1)" font-size="11.93" stroke-width="0.35" direction="rtl">غشهداب</text>
<text class="d" transform="translate(732.3 287.82) scale(0.94 1)" font-size="13.16" stroke-width="0.35">6.97%</text>
<rect class="G6" x="799.5" y="235.5" width="35" height="78"/>
<text class="d" transform="translate(808.5 275.68) scale(0.93 1)" font-size="2.96" stroke-width="0.06" direction="rtl">غبشهر</text>
<text class="d" transform="translate(808.5 279.31) scale(0.94 1)" font-size="3.26" stroke-width="0.06">5%</text>
<rect class="G5" x="684" y="315.6" width="35.5" height="48.7"/>
<text class="d" transform="translate(700.15 343.52) scale(0.93 1)" font-size="10.19" stroke-width="0.3" direction="rtl">غگلستا</text>
<rect class="R5" x="684" y="366.2" width="35.5" height="21.5"/>
<text class="w" transform="translate(700.15 380.52) scale(0.93 1)" font-size="10.19" stroke-width="0.3" direction="rtl">غدشت</text>
<rect class="G1" x="721.2" y="315.6" width="26.6" height="25.9"/>
<text class="w" transform="translate(732.9 332.12) scale(0.93 1)" font-size="10.19" stroke-width="0.3" direction="rtl"><tspan font-size="8.15">...</tspan>عال</text>
<rect class="M" x="721.2" y="343.5" width="26.6" height="21"/>
<text class="w" transform="translate(732.9 357.57) scale(0.93 1)" font-size="10.19" stroke-width="0.3" direction="rtl">غويتا</text>
<rect class="R2" x="721.2" y="366.5" width="26.6" height="21.2"/>
<text class="w" transform="translate(732.9 380.67) scale(0.93 1)" font-size="10.19" stroke-width="0.3" direction="rtl"><tspan font-size="8.15">...</tspan>غفا</text>
<rect class="G1" x="749.7" y="315.6" width="21.8" height="25.4"/>
<text class="w" transform="translate(759 331.87) scale(0.93 1)" font-size="10.19" stroke-width="0.3" direction="rtl"><tspan font-size="8.15">...</tspan>غ</text>
<rect class="G2" x="749.7" y="343" width="21.8" height="22.8"/>
<text class="w" transform="translate(759 357.97) scale(0.93 1)" font-size="10.19" stroke-width="0.3" direction="rtl"><tspan font-size="8.15">...</tspan>غا</text>
<rect class="G4" x="749.7" y="367.7" width="21.8" height="20"/>
<text class="w" transform="translate(759 381.27) scale(0.93 1)" font-size="10.19" stroke-width="0.3" direction="rtl"><tspan font-size="8.15">...</tspan>غ</text>
<rect class="M" x="773.3" y="315.9" width="19.8" height="18.9"/>
<text class="w" transform="translate(781.6 328.92) scale(0.93 1)" font-size="10.19" stroke-width="0.3" direction="rtl"><tspan font-size="8.15">...</tspan>غ</text>
<rect class="M" x="795.2" y="315.9" width="18.8" height="18.9"/>
<text class="w" transform="translate(803 328.92) scale(0.93 1)" font-size="10.19" stroke-width="0.3" direction="rtl"><tspan font-size="8.15">...</tspan>غ</text>
<rect class="G1" x="816" y="315.9" width="18.5" height="18.9"/>
<text class="w" transform="translate(823.65 328.92) scale(0.93 1)" font-size="10.19" stroke-width="0.3" direction="rtl"><tspan font-size="8.15">...</tspan>غ</text>
<rect class="G4" x="773.3" y="337" width="16.7" height="17.9"/>
<text class="w" transform="translate(780.05 349.52) scale(0.93 1)" font-size="10.19" stroke-width="0.3" direction="rtl"><tspan font-size="8.15">...</tspan>غ</text>
<rect class="G3" x="773.3" y="357.3" width="16.7" height="14.5"/>
<rect class="R2" x="773.3" y="374.2" width="16.7" height="13.5"/>
<rect class="G3" x="791.8" y="337" width="13.8" height="15"/>
<rect class="G1" x="807.5" y="337" width="12.8" height="15"/>
<rect class="G1" x="822.2" y="337" width="12.3" height="15"/>
<rect class="R2" x="791.8" y="354.2" width="13.8" height="12.1"/>
<rect class="G1" x="791.8" y="368.5" width="13.8" height="8.1"/>
<rect class="G1" x="791.8" y="378.8" width="13.8" height="8.9"/>
<rect class="G1" x="807.5" y="354.2" width="13.4" height="8.6"/>
<rect class="R4" x="822.8" y="354.2" width="11.7" height="8.6"/>
<rect class="G3" x="807.5" y="365" width="8.6" height="10.6"/>
<rect class="M" x="818.4" y="365" width="7.3" height="9.6"/>
<rect class="R2" x="828" y="365" width="6.5" height="9.6"/>
<rect class="R2" x="807.5" y="377.8" width="8.6" height="9.9"/>
<rect class="G1" x="818.4" y="376.9" width="4.7" height="10.8"/>
<rect class="M" x="825.4" y="377.2" width="9.1" height="4.5"/>
<rect class="M" x="825.4" y="384" width="9.1" height="3.7"/>
</g>
<g>
<text class="t" x="757.9" y="401.3">استخراج كانه هاي فلزي <tspan>[+]</tspan></text>
<rect class="G2" x="684" y="407.7" width="64" height="143.3"/>
<text class="w" transform="translate(707.5 477.79) scale(0.93 1)" font-size="12.8" stroke-width="0.37" direction="rtl">ومعادن</text>
<text class="w" transform="translate(707.5 493.49) scale(0.94 1)" font-size="14.12" stroke-width="0.37">1.5%</text>
<rect class="M" x="749.7" y="407.7" width="43.5" height="62.8"/>
<text class="w" transform="translate(762.95 440.09) scale(0.93 1)" font-size="3.64" stroke-width="0.07" direction="rtl">كگل</text>
<text class="w" transform="translate(762.95 444.55) scale(0.94 1)" font-size="4.01" stroke-width="0.07">-0.53%</text>
<rect class="R2" x="795" y="407.7" width="39.5" height="62.8"/>
<text class="w" transform="translate(806.25 440.17) scale(0.93 1)" font-size="3.35" stroke-width="0.07" direction="rtl">كنور</text>
<text class="w" transform="translate(806.25 444.27) scale(0.94 1)" font-size="3.69" stroke-width="0.07">-2%</text>
<rect class="G1" x="749.7" y="472.5" width="51.9" height="41.2"/>
<text class="w" transform="translate(774.05 496.67) scale(0.93 1)" font-size="10.19" stroke-width="0.3" direction="rtl">كاما</text>
<rect class="G2" x="749.7" y="515.5" width="51.9" height="35.5"/>
<text class="w" transform="translate(774.05 536.82) scale(0.93 1)" font-size="10.19" stroke-width="0.3" direction="rtl">كدما</text>
<rect class="M" x="803.3" y="472.5" width="31.2" height="33.8"/>
<text class="w" transform="translate(817.3 492.97) scale(0.93 1)" font-size="10.19" stroke-width="0.3" direction="rtl">كچاد</text>
<rect class="G1" x="803.3" y="508.2" width="18.7" height="21.6"/>
<rect class="G4" x="824" y="508.2" width="10.5" height="21.6"/>
<rect class="G1" x="803.3" y="531.7" width="11" height="19.3"/>
<rect class="G1" x="816" y="531.7" width="9" height="10.3"/>
<rect class="G4" x="826.7" y="531.7" width="7.8" height="10.3"/>
<rect class="G4" x="816" y="544" width="10.5" height="7"/>
<rect class="M" x="828" y="544" width="6.5" height="2.5"/>
<rect class="M" x="828" y="548.5" width="6.5" height="2.5"/>
</g>
<g>
<text class="t" x="914.15" y="20.3">خدمات فني و مهندسي <tspan>[+]</tspan></text>
<rect class="R6" x="838" y="25" width="154.5" height="112.5"/>
<text class="w" transform="translate(906.75 77.66) scale(0.93 1)" font-size="20.08" stroke-width="0.55" direction="rtl">رمپنا</text>
<text class="w" transform="translate(906.75 102.29) scale(0.94 1)" font-size="22.15" stroke-width="0.55">-4.11%</text>
</g>
<g>
<text class="t" x="897.5" y="151.3">ساخت محصولات فلزي <tspan>[+]</tspan></text>
<rect class="G4" x="838" y="157.1" width="89.5" height="96.6"/>
<text class="w" transform="translate(874.25 203.84) scale(0.93 1)" font-size="12.8" stroke-width="0.37" direction="rtl">فاذر</text>
<text class="w" transform="translate(874.25 219.54) scale(0.94 1)" font-size="14.12" stroke-width="0.37">2.6%</text>
<rect class="R2" x="929.2" y="157.1" width="30.8" height="44.6"/>
<text class="w" transform="translate(943 182.97) scale(0.93 1)" font-size="10.19" stroke-width="0.3" direction="rtl">فاراك</text>
<rect class="G6" x="929.2" y="203.5" width="30.8" height="39.5"/>
<text class="d" transform="translate(943 226.82) scale(0.93 1)" font-size="10.19" stroke-width="0.3" direction="rtl">چدن</text>
<rect class="R2" x="929.2" y="245" width="13.5" height="8.7"/>
<rect class="G1" x="944.2" y="245" width="12.5" height="8.7"/>
<rect class="G2" x="958" y="245" width="2" height="8.7"/>
</g>
<g>
<text class="t" x="897.5" y="267.8">مواد و محصولات دارويي <tspan>[+]</tspan></text>
<rect class="G1" x="838" y="273.1" width="42.5" height="70.2"/>
<text class="w" transform="translate(850.75 309.19) scale(0.93 1)" font-size="3.64" stroke-width="0.07" direction="rtl">بركت</text>
<text class="w" transform="translate(850.75 313.65) scale(0.94 1)" font-size="4.01" stroke-width="0.07">0.38%</text>
<rect class="G3" x="838" y="345.2" width="42.5" height="18.3"/>
<text class="w" transform="translate(857.65 357.92) scale(0.93 1)" font-size="10.19" stroke-width="0.3" direction="rtl">ددام</text>
<rect class="M" x="882.2" y="273.1" width="19.8" height="21.4"/>
<text class="w" transform="translate(890.5 287.37) scale(0.93 1)" font-size="10.19" stroke-width="0.3" direction="rtl"><tspan font-size="8.15">...</tspan>د</text>
<rect class="G2" x="903.7" y="273.1" width="20.3" height="21.4"/>
<text class="w" transform="translate(912.25 287.37) scale(0.93 1)" font-size="10.19" stroke-width="0.3" direction="rtl"><tspan font-size="8.15">...</tspan>د</text>
<rect class="G1" x="925.7" y="273.1" width="16.8" height="21.4"/>
<rect class="G1" x="944.2" y="273.1" width="15.8" height="21.4"/>
<rect class="R4" x="882.2" y="296.5" width="18.8" height="16.8"/>
<text class="w" transform="translate(890 308.47) scale(0.93 1)" font-size="10.19" stroke-width="0.3" direction="rtl"><tspan font-size="8.15">...</tspan>د</text>
<rect class="G4" x="902.7" y="296.5" width="14.1" height="16.8"/>
<rect class="R2" x="918.5" y="296.5" width="13" height="16.8"/>
<rect class="G1" x="933.2" y="296.5" width="12.8" height="16.8"/>
<rect class="M" x="947.7" y="296.5" width="12.3" height="16.8"/>
<rect class="R2" x="882.2" y="315" width="18.8" height="15.5"/>
<rect class="R2" x="882.2" y="332.5" width="18.8" height="15.5"/>
<rect class="G5" x="882.2" y="350" width="18.8" height="13.5"/>
<rect class="M" x="902.7" y="315" width="12.3" height="16.5"/>
<rect class="G1" x="902.7" y="333.5" width="12.3" height="14.5"/>
<rect class="G5" x="902.7" y="350" width="12.3" height="13.5"/>
<rect class="G1" x="916.9" y="315.3" width="14.7" height="11.2"/>
<rect class="G1" x="933.3" y="315.3" width="13" height="11.2"/>
<rect class="G1" x="948" y="315.3" width="12" height="11.2"/>
<rect class="G1" x="916.9" y="328.3" width="9.9" height="11.1"/>
<rect class="G1" x="928.4" y="328.3" width="9.6" height="9.4"/>
<rect class="G1" x="939.9" y="328.3" width="9.1" height="9.4"/>
<rect class="G1" x="950.7" y="328.3" width="9.3" height="9.4"/>
<rect class="M" x="916.9" y="341" width="9.9" height="10.7"/>
<rect class="M" x="916.9" y="353.8" width="9.9" height="9.7"/>
<rect class="R2" x="928.4" y="339.6" width="7.5" height="10.8"/>
<rect class="M" x="928.4" y="352.3" width="7.5" height="11.2"/>
<rect class="R4" x="937.6" y="339.6" width="6.3" height="9.4"/>
<rect class="R2" x="945.9" y="339.6" width="5.9" height="9.4"/>
<rect class="R4" x="953.7" y="339.6" width="6.3" height="9.4"/>
<rect class="M" x="937.3" y="350.9" width="9.6" height="5.9"/>
<rect class="G1" x="937.3" y="358.9" width="9.6" height="4.6"/>
<rect class="G2" x="948.6" y="351.1" width="5.1" height="3.6"/>
<rect class="G1" x="955.2" y="351.1" width="4.8" height="3.6"/>
<rect class="G1" x="948.6" y="356.8" width="2.8" height="6.7"/>
<rect class="G5" x="952.9" y="356.8" width="3" height="3"/>
<rect class="G2" x="957.3" y="356.8" width="2.7" height="3"/>
<rect class="M" x="952.9" y="361" width="3" height="2.5"/>
</g>
<g>
<text class="t" x="897.5" y="377.3">ساير محصولات كاني غيرفلزي <tspan>[+]</tspan></text>
<rect class="G1" x="838" y="382.7" width="68.3" height="81"/>
<text class="w" transform="translate(863.65 423.01) scale(0.93 1)" font-size="7.86" stroke-width="0.24" direction="rtl">كهمدا</text>
<text class="w" transform="translate(863.65 432.65) scale(0.94 1)" font-size="8.67" stroke-width="0.24">0.38%</text>
<rect class="G5" x="908.2" y="382.7" width="27.3" height="23.9"/>
<text class="d" transform="translate(920.25 398.22) scale(0.93 1)" font-size="10.19" stroke-width="0.3" direction="rtl">كفرا</text>
<rect class="M" x="937.2" y="382.7" width="22.8" height="23.9"/>
<text class="w" transform="translate(947 398.22) scale(0.93 1)" font-size="10.19" stroke-width="0.3" direction="rtl"><tspan font-size="8.15">...</tspan>ك</text>
<rect class="G4" x="908.2" y="408.7" width="26" height="20.3"/>
<text class="w" transform="translate(919.6 422.42) scale(0.93 1)" font-size="10.19" stroke-width="0.3" direction="rtl">كتوكا</text>
<rect class="R4" x="936" y="408.7" width="24" height="20.3"/>
<text class="w" transform="translate(946.4 422.42) scale(0.93 1)" font-size="10.19" stroke-width="0.3" direction="rtl"><tspan font-size="8.15">...</tspan>ك</text>
<rect class="G1" x="908.2" y="430.8" width="25.8" height="18.2"/>
<text class="w" transform="translate(919.5 443.47) scale(0.93 1)" font-size="10.19" stroke-width="0.3" direction="rtl">كاذر</text>
<rect class="M" x="908.2" y="451" width="25.8" height="12.7"/>
<rect class="G4" x="935.8" y="430.8" width="24.2" height="11.7"/>
<rect class="G3" x="935.8" y="444.5" width="9.5" height="19.2"/>
<rect class="M" x="947" y="444.5" width="13" height="12"/>
<rect class="G3" x="947" y="458.5" width="13" height="5.2"/>
</g>
<g>
<text class="t" x="897.5" y="477.3">حمل ونقل، انبارداري و ارتباطات <tspan>[+]</tspan></text>
<rect class="R2" x="838" y="483.3" width="46" height="67.7"/>
<text class="w" transform="translate(852.5 517.76) scale(0.93 1)" font-size="5" stroke-width="0.1" direction="rtl">حكشتي</text>
<text class="w" transform="translate(852.5 523.89) scale(0.94 1)" font-size="5.51" stroke-width="0.1">-1.54%</text>
<rect class="R2" x="886" y="483.3" width="42" height="46"/>
<text class="w" transform="translate(898.5 507.23) scale(0.93 1)" font-size="3.83" stroke-width="0.08" direction="rtl">حتايد</text>
<text class="w" transform="translate(898.5 511.93) scale(0.94 1)" font-size="4.23" stroke-width="0.08">-1.6%</text>
<rect class="M" x="886" y="531" width="42" height="20"/>
<text class="w" transform="translate(905.4 544.57) scale(0.93 1)" font-size="10.19" stroke-width="0.3" direction="rtl">حآفرين</text>
<rect class="M" x="930" y="483.3" width="15.3" height="25.7"/>
<rect class="R2" x="947" y="483.3" width="13" height="25.7"/>
<rect class="R2" x="930" y="511" width="15.3" height="20.5"/>
<rect class="R2" x="947" y="511" width="13" height="20.5"/>
<rect class="G3" x="930" y="533.5" width="14.3" height="8.5"/>
<rect class="R2" x="930" y="544" width="14.3" height="7"/>
<rect class="M" x="946" y="533.5" width="6" height="11"/>
<rect class="G1" x="953.7" y="533.5" width="6.3" height="11"/>
<rect class="G1" x="946" y="546.5" width="11" height="4.5"/>
<rect class="G2" x="958.3" y="546.5" width="1.7" height="4.5"/>
</g>
<g>
<text class="t" x="1064.4" y="20.3">... فعاليتهاي كمكي به نهادهاي مالي <tspan>[+]</tspan></text>
<rect class="G6" x="996.5" y="25" width="86.5" height="63.8"/>
<text class="d" transform="translate(1031.25 56.88) scale(0.93 1)" font-size="7.27" stroke-width="0.23" direction="rtl">كالا</text>
<text class="d" transform="translate(1031.25 65.8) scale(0.94 1)" font-size="8.03" stroke-width="0.23">4.08%</text>
<rect class="G2" x="996.5" y="90.5" width="86.5" height="47"/>
<text class="w" transform="translate(1031.25 114.56) scale(0.93 1)" font-size="5.19" stroke-width="0.11" direction="rtl">انرژي</text>
<text class="w" transform="translate(1031.25 120.92) scale(0.94 1)" font-size="5.72" stroke-width="0.11">1.53%</text>
<rect class="G1" x="1084.5" y="25" width="50.8" height="56"/>
<text class="w" transform="translate(1101.4 53.79) scale(0.93 1)" font-size="4.37" stroke-width="0.09" direction="rtl">فرابورس</text>
<text class="w" transform="translate(1101.4 59.14) scale(0.94 1)" font-size="4.82" stroke-width="0.09">0.04%</text>
<rect class="G1" x="1084.5" y="82.8" width="50.8" height="39.7"/>
<text class="w" transform="translate(1108.3 106.22) scale(0.93 1)" font-size="10.19" stroke-width="0.3" direction="rtl">بورس</text>
<rect class="M" x="1084.5" y="124.3" width="18.8" height="13.2"/>
<rect class="G1" x="1105" y="124.3" width="10" height="13.2"/>
<rect class="G1" x="1116.7" y="124.3" width="8.3" height="13.2"/>
<rect class="M" x="1126.7" y="124.3" width="8.6" height="4.5"/>
<rect class="G2" x="1126.7" y="130.7" width="5.8" height="6.8"/>
<rect class="R4" x="1133.8" y="130.7" width="1.5" height="6.8"/>
</g>
<g>
<text class="t" x="1199.15" y="20.3">سيمان، آهك و گچ <tspan>[+]</tspan></text>
<rect class="G4" x="1138.5" y="25" width="61" height="76"/>
<text class="w" transform="translate(1160.5 63.22) scale(0.93 1)" font-size="6.4" stroke-width="0.13" direction="rtl">سصفها</text>
<text class="w" transform="translate(1160.5 71.07) scale(0.94 1)" font-size="7.06" stroke-width="0.13">2.55%</text>
<rect class="R2" x="1138.5" y="102.8" width="61" height="34.7"/>
<text class="w" transform="translate(1167.4 123.72) scale(0.93 1)" font-size="10.19" stroke-width="0.3" direction="rtl">سبزوا</text>
<rect class="G6" x="1201.2" y="25" width="37.3" height="47.5"/>
<text class="d" transform="translate(1218.25 52.32) scale(0.93 1)" font-size="10.19" stroke-width="0.3" direction="rtl">سيلام</text>
<rect class="R6" x="1240.2" y="25" width="22.8" height="47.5"/>
<rect class="M" x="1201.2" y="74.2" width="25.8" height="20.4"/>
<text class="w" transform="translate(1212.5 87.97) scale(0.93 1)" font-size="10.19" stroke-width="0.3" direction="rtl"><tspan font-size="8.15">...</tspan>س</text>
<rect class="G1" x="1228.5" y="74.2" width="19.3" height="20.4"/>
<rect class="R2" x="1249.3" y="74.2" width="13.7" height="20.4"/>
<rect class="M" x="1201.2" y="96" width="13.6" height="20"/>
<rect class="M" x="1201.2" y="117.8" width="13.6" height="19.7"/>
<rect class="R5" x="1216.3" y="96" width="14.4" height="18.7"/>
<rect class="M" x="1216.3" y="116.2" width="14.4" height="10.6"/>
<rect class="G1" x="1216.3" y="128.8" width="14.4" height="8.7"/>
<rect class="M" x="1232.2" y="96" width="10.4" height="12.7"/>
<rect class="M" x="1244" y="96" width="9" height="12.7"/>
<rect class="R1" x="1254.8" y="96" width="8.2" height="12.7"/>
<rect class="G1" x="1232.2" y="110.2" width="9.7" height="8.7"/>
<rect class="G1" x="1232.2" y="120.6" width="9.7" height="8.7"/>
<rect class="M" x="1232.2" y="131" width="9.7" height="6.5"/>
<rect class="G2" x="1243.6" y="110.2" width="9.7" height="5.2"/>
<rect class="R1" x="1255" y="110.2" width="8" height="5.2"/>
<rect class="G1" x="1243.6" y="117.1" width="5.4" height="5.8"/>
<rect class="G1" x="1250.8" y="117.1" width="5.2" height="5.8"/>
<rect class="M" x="1257.7" y="117.1" width="5.3" height="5.8"/>
<rect class="M" x="1243.6" y="124.6" width="4.7" height="4.4"/>
<rect class="G1" x="1250" y="124.6" width="6" height="4.4"/>
<rect class="G4" x="1257.5" y="124.6" width="5.5" height="4.4"/>
<rect class="R3" x="1243.6" y="131.5" width="4.7" height="6"/>
<rect class="G1" x="1250" y="130.3" width="4.5" height="3"/>
<rect class="G1" x="1256" y="130.3" width="3" height="3"/>
<rect class="M" x="1260.5" y="130.3" width="2.5" height="3"/>
<rect class="R4" x="1250" y="135" width="4.5" height="2.5"/>
<rect class="G2" x="1256" y="135" width="2" height="2.5"/>
<rect class="R2" x="1259.5" y="135" width="1.5" height="2.5"/>
</g>
<g>
<text class="t" x="1013" y="151.3">... شركتهاي چند رشته اي <tspan>[+]</tspan></text>
<rect class="G1" x="963.2" y="157.1" width="66.8" height="45.9"/>
<text class="w" transform="translate(988.1 180.71) scale(0.93 1)" font-size="4.8" stroke-width="0.1" direction="rtl">شستا</text>
<text class="w" transform="translate(988.1 186.6) scale(0.94 1)" font-size="5.3" stroke-width="0.1">0.31%</text>
<rect class="G2" x="963.2" y="205" width="66.8" height="33.9"/>
<text class="w" transform="translate(988.1 223.07) scale(0.93 1)" font-size="3.15" stroke-width="0.07" direction="rtl">وبانك</text>
<text class="w" transform="translate(988.1 226.94) scale(0.94 1)" font-size="3.48" stroke-width="0.07">1.2%</text>
<rect class="M" x="1031.7" y="157.1" width="34.5" height="32.4"/>
<text class="w" transform="translate(1047.35 176.87) scale(0.93 1)" font-size="10.19" stroke-width="0.3" direction="rtl">وكغدير</text>
<rect class="M" x="1031.7" y="191.3" width="34.5" height="21.7"/>
<text class="w" transform="translate(1047.35 205.72) scale(0.93 1)" font-size="10.19" stroke-width="0.3" direction="rtl">واميد</text>
<rect class="G1" x="1031.7" y="214.8" width="20.8" height="24.1"/>
<text class="w" transform="translate(1040.5 230.42) scale(0.93 1)" font-size="10.19" stroke-width="0.3" direction="rtl"><tspan font-size="8.15">...</tspan>و</text>
<rect class="G1" x="1054.2" y="214.8" width="12" height="11.2"/>
<rect class="G4" x="1054.2" y="227.8" width="12" height="11.1"/>
</g>
<g>
<text class="t" x="1116.5" y="151.3">...رايانه و فعاليت‌هاي وا <tspan>[+]</tspan></text>
<rect class="G6" x="1069.2" y="157.1" width="44.1" height="48.2"/>
<text class="d" transform="translate(1082.75 182.3) scale(0.93 1)" font-size="3.25" stroke-width="0.07" direction="rtl">افرا</text>
<text class="d" transform="translate(1082.75 186.28) scale(0.94 1)" font-size="3.58" stroke-width="0.07">7.09%</text>
<rect class="G4" x="1069.2" y="207" width="44.1" height="31.9"/>
<text class="w" transform="translate(1089.65 226.52) scale(0.93 1)" font-size="10.19" stroke-width="0.3" direction="rtl">ركيش</text>
<rect class="M" x="1115" y="157.1" width="26.5" height="39.2"/>
<text class="w" transform="translate(1126.65 180.27) scale(0.93 1)" font-size="10.19" stroke-width="0.3" direction="rtl"><tspan font-size="8.15">... </tspan>پي</text>
<rect class="G3" x="1143.2" y="157.1" width="24" height="39.2"/>
<text class="w" transform="translate(1153.6 180.27) scale(0.93 1)" font-size="10.19" stroke-width="0.3" direction="rtl"><tspan font-size="8.15">...</tspan>م</text>
<rect class="G4" x="1115" y="198.2" width="18.8" height="20.7"/>
<text class="w" transform="translate(1122.8 212.12) scale(0.93 1)" font-size="10.19" stroke-width="0.3" direction="rtl"><tspan font-size="8.15">...</tspan>ر</text>
<rect class="M" x="1115" y="221.2" width="18.8" height="17.7"/>
<text class="w" transform="translate(1122.8 233.62) scale(0.93 1)" font-size="10.19" stroke-width="0.3" direction="rtl"><tspan font-size="8.15">...</tspan>را</text>
<rect class="R2" x="1135.1" y="198.2" width="16.8" height="14.4"/>
<rect class="M" x="1153.7" y="198.2" width="13.5" height="14.4"/>
<rect class="M" x="1135.1" y="214.8" width="12.7" height="13"/>
<rect class="M" x="1135.1" y="229.8" width="12.7" height="9.1"/>
<rect class="R2" x="1149.6" y="214.8" width="7.8" height="9.3"/>
<rect class="M" x="1159.1" y="214.8" width="8.1" height="9.3"/>
<rect class="M" x="1149.6" y="226.1" width="8.4" height="5.4"/>
<rect class="M" x="1159.7" y="226.1" width="7.5" height="4.6"/>
<rect class="R2" x="1149.6" y="233.5" width="8.4" height="5.4"/>
<rect class="M" x="1159.7" y="232.9" width="3.9" height="6"/>
<rect class="M" x="1164.8" y="232.9" width="1" height="6"/>
</g>
<g>
<text class="t" x="1215" y="151.3">زراعت و خدمات وابسته <tspan>[+]</tspan></text>
<rect class="R3" x="1170" y="157.1" width="33.3" height="27.9"/>
<text class="w" transform="translate(1185.05 174.62) scale(0.93 1)" font-size="10.19" stroke-width="0.3" direction="rtl">زملارد</text>
<rect class="G5" x="1170" y="186.8" width="33.3" height="27.2"/>
<text class="d" transform="translate(1185.05 203.97) scale(0.93 1)" font-size="10.19" stroke-width="0.3" direction="rtl">زكوثر</text>
<rect class="R2" x="1170" y="215.8" width="33.3" height="23.1"/>
<text class="w" transform="translate(1185.05 230.92) scale(0.93 1)" font-size="10.19" stroke-width="0.3" direction="rtl">زشريف</text>
<rect class="G2" x="1205" y="157.1" width="30.3" height="23.7"/>
<text class="w" transform="translate(1218.55 172.52) scale(0.93 1)" font-size="10.19" stroke-width="0.3" direction="rtl"><tspan font-size="8.15">...</tspan>سيم</text>
<rect class="R2" x="1237" y="157.1" width="26" height="23.7"/>
<text class="w" transform="translate(1248.4 172.52) scale(0.93 1)" font-size="10.19" stroke-width="0.3" direction="rtl">زقيام</text>
<rect class="G5" x="1205" y="182.5" width="19" height="31"/>
<text class="d" transform="translate(1212.9 201.57) scale(0.93 1)" font-size="10.19" stroke-width="0.3" direction="rtl"><tspan font-size="8.15">...</tspan>ز</text>
<rect class="G1" x="1205" y="215.3" width="19" height="23.6"/>
<rect class="M" x="1225.5" y="182.5" width="18.3" height="21"/>
<rect class="R2" x="1245.5" y="182.5" width="17.5" height="21"/>
<text class="w" transform="translate(1252.65 196.57) scale(0.93 1)" font-size="10.19" stroke-width="0.3" direction="rtl"><tspan font-size="8.15">...</tspan>ز</text>
<rect class="G1" x="1225.5" y="205.5" width="20.5" height="17.3"/>
<text class="w" transform="translate(1234.15 217.72) scale(0.93 1)" font-size="10.19" stroke-width="0.3" direction="rtl"><tspan font-size="8.15">...</tspan>ز</text>
<rect class="R2" x="1225.5" y="224.7" width="20.5" height="14.2"/>
<rect class="M" x="1248" y="205.5" width="15" height="15.3"/>
<rect class="M" x="1248" y="222.8" width="15" height="10.2"/>
<rect class="M" x="1248" y="234.8" width="7" height="4.1"/>
<rect class="M" x="1256.7" y="234.8" width="6.3" height="4.1"/>
</g>
<g>
<text class="t" x="1016.75" y="252.3">مخابرات <tspan>[+]</tspan></text>
<rect class="R5" x="963.2" y="258.2" width="102.8" height="64.3"/>
<text class="w" transform="translate(1006.1 289.43) scale(0.93 1)" font-size="10.48" stroke-width="0.31" direction="rtl">اخابر</text>
<text class="w" transform="translate(1006.1 302.29) scale(0.94 1)" font-size="11.56" stroke-width="0.31">-3.73%</text>
<rect class="R3" x="1067.7" y="258.2" width="5.8" height="64.3"/>
</g>
<g>
<text class="t" x="1125.5" y="252.3">...عرضه برق، گاز، بخاروآب <tspan>[+]</tspan></text>
<rect class="G4" x="1076.7" y="258.2" width="35.3" height="64.3"/>
<text class="w" transform="translate(1085.85 291.55) scale(0.93 1)" font-size="2.86" stroke-width="0.06" direction="rtl">بفجر</text>
<text class="w" transform="translate(1085.85 295.06) scale(0.94 1)" font-size="3.16" stroke-width="0.06">2.85%</text>
<rect class="G2" x="1114.1" y="258.2" width="63.7" height="34.3"/>
<text class="w" transform="translate(1137.45 276.55) scale(0.93 1)" font-size="2.86" stroke-width="0.06" direction="rtl">بجهرم</text>
<text class="w" transform="translate(1137.45 280.06) scale(0.94 1)" font-size="3.16" stroke-width="0.06">1.6%</text>
<rect class="G1" x="1114.1" y="294.6" width="17.1" height="13.5"/>
<rect class="R2" x="1114.1" y="310" width="17.1" height="12.5"/>
<rect class="G1" x="1133.2" y="294.6" width="14.7" height="14.2"/>
<rect class="G4" x="1133.2" y="311" width="14.7" height="11.5"/>
<rect class="M" x="1149.5" y="294.6" width="13.4" height="11.6"/>
<rect class="G1" x="1165" y="294.6" width="12.8" height="11.6"/>
<rect class="R2" x="1149.5" y="308.1" width="10.2" height="14.4"/>
<rect class="M" x="1161.3" y="308.1" width="9.9" height="8.5"/>
<rect class="M" x="1161.3" y="319" width="9.9" height="3.5"/>
<rect class="G1" x="1173.3" y="308.1" width="4.5" height="6.6"/>
<rect class="G3" x="1173.3" y="316.7" width="4.5" height="5.8"/>
</g>
<g>
<text class="t" x="1220.25" y="252.3">منسوجات <tspan>[+]</tspan></text>
<rect class="G6" x="1180.7" y="258.2" width="82.3" height="64.3"/>
<text class="d" transform="translate(1213.35 290.19) scale(0.93 1)" font-size="7.76" stroke-width="0.24" direction="rtl">نطرين</text>
<text class="d" transform="translate(1213.35 299.71) scale(0.94 1)" font-size="8.56" stroke-width="0.24">6.8%</text>
</g>
<g>
<text class="t" x="1006" y="336.3">...ماشين آلات و دست <tspan>[+]</tspan></text>
<rect class="G2" x="963.2" y="342.5" width="37.6" height="57.5"/>
<text class="w" transform="translate(973.5 372.43) scale(0.93 1)" font-size="2.96" stroke-width="0.06" direction="rtl">تايرا</text>
<text class="w" transform="translate(973.5 376.06) scale(0.94 1)" font-size="3.26" stroke-width="0.06">1.3%</text>
<rect class="R2" x="1002.5" y="342.5" width="26.7" height="39"/>
<text class="w" transform="translate(1014.25 365.57) scale(0.93 1)" font-size="10.19" stroke-width="0.3" direction="rtl"><tspan font-size="8.15">...</tspan>بترا</text>
<rect class="R2" x="1031" y="342.5" width="21" height="39"/>
<text class="w" transform="translate(1039.9 365.57) scale(0.93 1)" font-size="10.19" stroke-width="0.3" direction="rtl"><tspan font-size="8.15">...</tspan>يا</text>
<rect class="M" x="1002.5" y="383.5" width="14.5" height="16.5"/>
<rect class="M" x="1018.7" y="383.5" width="12" height="16.5"/>
<rect class="M" x="1032.5" y="383.5" width="14.2" height="8"/>
<rect class="R2" x="1032.5" y="393.5" width="14.2" height="6.5"/>
<rect class="M" x="1048.5" y="383.5" width="3.5" height="16.5"/>
</g>
<g>
<text class="t" x="1089.9" y="336.3">محصولات چوبي <tspan>[+]</tspan></text>
<rect class="R5" x="1055.5" y="342.5" width="64.5" height="70.5"/>
<text class="w" transform="translate(1079.25 377.7) scale(0.93 1)" font-size="7.37" stroke-width="0.23" direction="rtl">چفيبر</text>
<text class="w" transform="translate(1079.25 386.74) scale(0.94 1)" font-size="8.13" stroke-width="0.23">-3.69%</text>
<rect class="R1" x="1121.7" y="342.5" width="6.3" height="70.5"/>
</g>
<g>
<text class="t" x="1164.4" y="336.3">...لاستيك و پلا <tspan>[+]</tspan></text>
<rect class="G45" x="1131.2" y="342.5" width="70" height="45.5"/>
<text class="w" transform="translate(1157.7 365.97) scale(0.93 1)" font-size="4.61" stroke-width="0.1" direction="rtl">پكرمان</text>
<text class="w" transform="translate(1157.7 371.62) scale(0.94 1)" font-size="5.08" stroke-width="0.1">3.04%</text>
<rect class="R1" x="1131.2" y="390" width="17.8" height="23"/>
<rect class="R3" x="1151" y="390" width="13.2" height="23"/>
<rect class="R2" x="1166" y="390" width="12" height="23"/>
<rect class="R1" x="1179.7" y="390" width="21.5" height="9.5"/>
<rect class="R3" x="1179.7" y="401.5" width="9" height="11.5"/>
<rect class="M" x="1190.5" y="401.5" width="10.7" height="6"/>
<rect class="M" x="1190.5" y="409.5" width="5.7" height="3.5"/>
<rect class="G3" x="1198" y="409.5" width="3.2" height="3.5"/>
</g>
<g>
<text class="t" x="1231.9" y="336.3">...ماشين آلا <tspan>[+]</tspan></text>
<rect class="R3" x="1204.2" y="342.5" width="31.8" height="33.3"/>
<text class="w" transform="translate(1218.5 362.72) scale(0.93 1)" font-size="10.19" stroke-width="0.3" direction="rtl">تكنو</text>
<rect class="G4" x="1237.7" y="342.5" width="25.3" height="33.3"/>
<text class="w" transform="translate(1248.75 362.72) scale(0.93 1)" font-size="10.19" stroke-width="0.3" direction="rtl">لابسا</text>
<rect class="G1" x="1204.2" y="377.7" width="22.5" height="35.3"/>
<text class="w" transform="translate(1213.85 398.92) scale(0.93 1)" font-size="10.19" stroke-width="0.3" direction="rtl"><tspan font-size="8.15">...</tspan>ل</text>
<rect class="G1" x="1228.5" y="377.7" width="16" height="18.8"/>
<rect class="M" x="1246.5" y="377.7" width="16.5" height="18.8"/>
<rect class="R2" x="1228.5" y="398.5" width="9.7" height="14.5"/>
<rect class="G3" x="1240" y="398.5" width="11.2" height="7.5"/>
<rect class="M" x="1240" y="408" width="11.2" height="5"/>
<rect class="M" x="1253" y="398.5" width="10" height="4.7"/>
<rect class="R2" x="1253" y="405" width="5" height="8"/>
<rect class="G1" x="1259.7" y="405" width="3.3" height="8"/>
</g>
<g>
<text class="t" x="1006" y="413.8">...بيمه وصندوق بازن <tspan>[+]</tspan></text>
<rect class="G1" x="963.2" y="419.5" width="22" height="30.5"/>
<text class="w" transform="translate(972.6 438.32) scale(0.93 1)" font-size="10.19" stroke-width="0.3" direction="rtl">دانا</text>
<rect class="G5" x="963.2" y="452" width="22" height="24"/>
<text class="d" transform="translate(972.6 467.57) scale(0.93 1)" font-size="10.19" stroke-width="0.3" direction="rtl"><tspan font-size="8.15">...</tspan>و</text>
<rect class="R2" x="987" y="419.5" width="19.7" height="19"/>
<text class="w" transform="translate(995.25 432.57) scale(0.93 1)" font-size="10.19" stroke-width="0.3" direction="rtl"><tspan font-size="8.15">...</tspan>وآ</text>
<rect class="M" x="987" y="440.5" width="19.7" height="17.7"/>
<rect class="G3" x="987" y="460.2" width="19.7" height="15.8"/>
<rect class="M" x="1008.5" y="419.5" width="21" height="14"/>
<rect class="G3" x="1031.2" y="419.5" width="20.8" height="14"/>
<rect class="G3" x="1008.5" y="435.5" width="13.7" height="20.5"/>
<rect class="R3" x="1008.5" y="458" width="13.7" height="18"/>
<rect class="R3" x="1024" y="435.5" width="15.5" height="15"/>
<rect class="M" x="1041.2" y="435.5" width="10.8" height="15"/>
<rect class="M" x="1024" y="452.5" width="13.5" height="11.3"/>
<rect class="M" x="1024" y="465.7" width="13.5" height="10.3"/>
<rect class="G3" x="1039.2" y="452.5" width="12.8" height="6.7"/>
<rect class="G1" x="1039.2" y="461.2" width="6.3" height="8.5"/>
<rect class="R2" x="1047.5" y="461.2" width="4.5" height="8.5"/>
<rect class="M" x="1039.2" y="471.8" width="4.8" height="4.2"/>
<rect class="M" x="1045.8" y="471.8" width="4.5" height="4.2"/>
</g>
<g>
<text class="t" x="1006" y="489.8">هتل و رستوران <tspan>[+]</tspan></text>
<rect class="M" x="963.2" y="495.5" width="47.5" height="55.5"/>
<text class="w" transform="translate(978.45 524.18) scale(0.93 1)" font-size="3.83" stroke-width="0.08" direction="rtl">گكوثر</text>
<text class="w" transform="translate(978.45 528.88) scale(0.94 1)" font-size="4.23" stroke-width="0.08">-0.08%</text>
<rect class="G1" x="1012.5" y="495.5" width="39.5" height="40.3"/>
<text class="w" transform="translate(1030.65 519.22) scale(0.93 1)" font-size="10.19" stroke-width="0.3" direction="rtl">سمگا</text>
<rect class="G1" x="1012.5" y="537.7" width="25" height="13.3"/>
<rect class="M" x="1039.2" y="537.7" width="12.8" height="13.3"/>
</g>
<g>
<text class="t" x="1085.85" y="427">قند و شكر <tspan>[+]</tspan></text>
<rect class="G3" x="1055.5" y="432.7" width="25.4" height="51.1"/>
<text class="w" transform="translate(1066.6 461.82) scale(0.93 1)" font-size="10.19" stroke-width="0.3" direction="rtl"><tspan font-size="8.15">...</tspan>قنا</text>
<rect class="M" x="1082.7" y="432.7" width="20.8" height="18.7"/>
<text class="w" transform="translate(1091.5 445.62) scale(0.93 1)" font-size="10.19" stroke-width="0.3" direction="rtl"><tspan font-size="8.15">...</tspan>ق</text>
<rect class="G1" x="1105.3" y="432.7" width="14.7" height="18.7"/>
<rect class="R2" x="1082.7" y="453.5" width="15.3" height="14.5"/>
<rect class="R2" x="1099.9" y="453.5" width="10.2" height="12.4"/>
<rect class="G3" x="1111.9" y="453.5" width="8.1" height="12.4"/>
<rect class="G1" x="1082.7" y="470.1" width="15.3" height="13.7"/>
<rect class="G3" x="1099.9" y="468" width="8.4" height="8.5"/>
<rect class="G3" x="1099.9" y="478.3" width="8.4" height="5.5"/>
<rect class="G5" x="1110.1" y="468" width="9.9" height="4.2"/>
<rect class="G1" x="1110.1" y="474.3" width="9.9" height="4.3"/>
<rect class="G5" x="1110.1" y="480.4" width="9.9" height="3.4"/>
</g>
<g>
<text class="t" x="1147.8" y="427">...ساير وا <tspan>[+]</tspan></text>
<rect class="G1" x="1123.1" y="432.7" width="21.7" height="30.2"/>
<text class="w" transform="translate(1132.35 451.37) scale(0.93 1)" font-size="10.19" stroke-width="0.3" direction="rtl"><tspan font-size="8.15">...</tspan>و</text>
<rect class="M" x="1123.1" y="464.7" width="21.7" height="19.1"/>
<text class="w" transform="translate(1132.35 477.82) scale(0.93 1)" font-size="10.19" stroke-width="0.3" direction="rtl"><tspan font-size="8.15">...</tspan>و</text>
<rect class="G3" x="1146.9" y="432.7" width="15.8" height="23.3"/>
<rect class="G4" x="1164.5" y="432.7" width="11.4" height="23.3"/>
<rect class="M" x="1146.9" y="458.1" width="18.2" height="11.7"/>
<rect class="M" x="1146.9" y="471.9" width="18.2" height="11.9"/>
<rect class="M" x="1167.2" y="458.1" width="8.7" height="17.5"/>
<rect class="G1" x="1167.2" y="478" width="6.9" height="5.8"/>
</g>
<g>
<text class="t" x="1198.1" y="427">...استخ <tspan>[+]</tspan></text>
<rect class="G2" x="1178.9" y="432.7" width="39.2" height="24.2"/>
<text class="w" transform="translate(1196.9 448.37) scale(0.93 1)" font-size="10.19" stroke-width="0.3" direction="rtl">كماسه</text>
<rect class="M" x="1219.4" y="432.7" width="1.5" height="24.2"/>
</g>
<g>
<text class="t" x="1241.65" y="427">...خرد <tspan>[+]</tspan></text>
<rect class="R5" x="1223.9" y="432.7" width="38.4" height="24.2"/>
<text class="w" transform="translate(1241.5 448.37) scale(0.93 1)" font-size="10.19" stroke-width="0.3" direction="rtl">قاسم</text>
<rect class="R2" x="1262.6" y="432.7" width="0.8" height="24.2"/>
</g>
<g>
<text class="t" x="1198.1" y="470.8">...استخ <tspan>[+]</tspan></text>
<rect class="G1" x="1178.9" y="476.5" width="41.2" height="17.2"/>
<text class="w" transform="translate(1197.9 488.67) scale(0.93 1)" font-size="10.19" stroke-width="0.3" direction="rtl">حفاري</text>
</g>
<g>
<text class="t" x="1241.65" y="470.8">...مح <tspan>[+]</tspan></text>
<rect class="G1" x="1223.9" y="476.5" width="11.4" height="17.2"/>
<rect class="G3" x="1237.1" y="476.5" width="11.2" height="17.2"/>
<rect class="G4" x="1250.1" y="476.5" width="12.7" height="13.9"/>
<rect class="G1" x="1250.1" y="492.2" width="12.7" height="1.5"/>
</g>
<g>
<text class="t" x="1085.85" y="497.8">...دباغي، پردا <tspan>[+]</tspan></text>
<rect class="R5" x="1055.5" y="504" width="64.5" height="47"/>
<text class="w" transform="translate(1079.25 528.22) scale(0.93 1)" font-size="4.61" stroke-width="0.1" direction="rtl">وطن</text>
<text class="w" transform="translate(1079.25 533.87) scale(0.94 1)" font-size="5.08" stroke-width="0.1">-3.32%</text>
</g>
<g>
<text class="t" x="1147.8" y="497.8">... كاشي و <tspan>[+]</tspan></text>
<rect class="R1" x="1123.3" y="504" width="27.6" height="47"/>
<text class="w" transform="translate(1135.5 531.07) scale(0.93 1)" font-size="10.19" stroke-width="0.3" direction="rtl">كترام</text>
<rect class="G5" x="1153" y="504" width="22.9" height="23.8"/>
<text class="d" transform="translate(1162.85 519.47) scale(0.93 1)" font-size="10.19" stroke-width="0.3" direction="rtl"><tspan font-size="8.15">...</tspan>ك</text>
<rect class="R2" x="1153" y="529.9" width="10.9" height="21.1"/>
<rect class="M" x="1166" y="529.9" width="9.9" height="6.6"/>
<rect class="R2" x="1166" y="538.9" width="9.9" height="5.4"/>
<rect class="R4" x="1166" y="546.5" width="9.9" height="4.5"/>
</g>
<g>
<text class="t" x="1201.9" y="507.7">...اطلاعا <tspan>[+]</tspan></text>
<rect class="R2" x="1178.9" y="513.6" width="28.1" height="9"/>
<rect class="R2" x="1208.8" y="513.6" width="19.3" height="9"/>
</g>
<g>
<text class="t" x="1245.45" y="507.7">...تو <tspan>[+]</tspan></text>
<rect class="M" x="1231.4" y="513.6" width="25.3" height="12.4"/>
<rect class="G1" x="1258.5" y="513.6" width="4.3" height="12.4"/>
</g>
<g>
<text class="t" x="1201.9" y="536.7">...استخرا <tspan>[+]</tspan></text>
<rect class="G5" x="1178.9" y="542.5" width="32.6" height="8.5"/>
<rect class="G1" x="1213.3" y="542.5" width="13.9" height="8.5"/>
</g>
<g>
<text class="t" x="1237.55" y="539.8"><tspan>...]</tspan></text>
<rect class="M" x="1231.4" y="545.6" width="15.7" height="5.4"/>
</g>
<g>
<rect class="R3" x="1250.1" y="545.6" width="12.7" height="3.4"/>
</g>
</svg>
</body></html>
